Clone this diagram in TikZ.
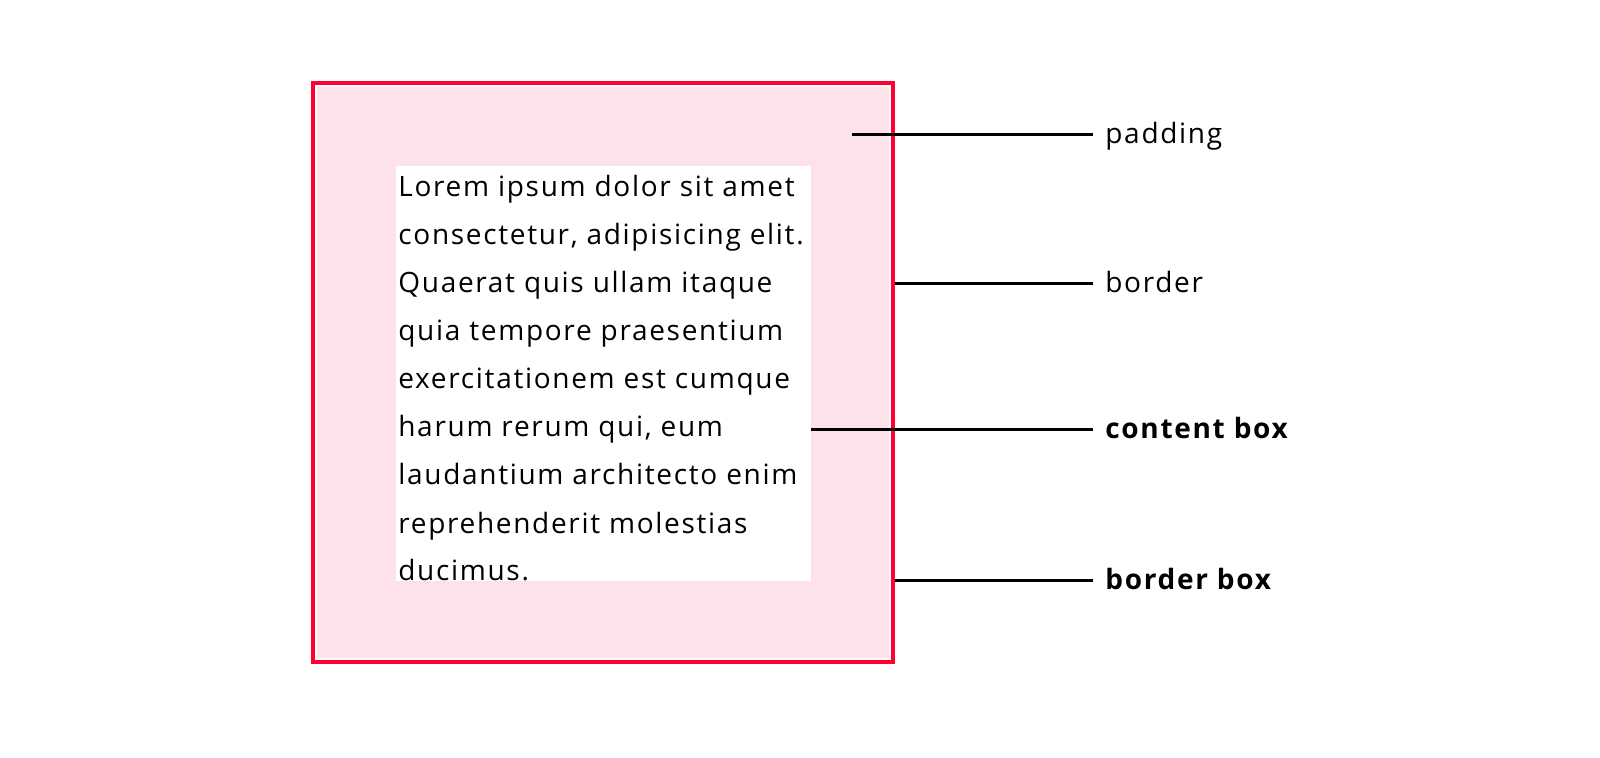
\documentclass[tikz,border=0pt]{standalone}
\usepackage{fontspec}
\setmainfont[Ligatures=NoCommon, LetterSpace=6]{Open Sans}
\usepackage{tikz}
\usetikzlibrary{positioning}
\definecolor{boxred}{RGB}{255, 0, 51}
\definecolor{padpink}{RGB}{253, 226, 233}

\begin{document}
\begin{tikzpicture}[x=0.5pt, y=-0.5pt,
    every node/.style={font=\fontsize{14}{24}\selectfont},
    lorem/.style={anchor=base west, inner sep=0pt},
    callout/.style={anchor=base west, inner sep=0pt},
    leader/.style={line width=1.5pt, black}]
  \useasboundingbox (0,0) rectangle (1600,758);
  % Padding area and border
  \node[fill=padpink, minimum width=286pt, minimum height=285.5pt, inner sep=0pt] (pad) at (603,372.5) {};
  \node[draw=boxred, line width=2pt, minimum width=290pt, minimum height=289.5pt, inner sep=0pt] (bbox) at (603,372.5) {};
  % Content box
  \node[fill=white, minimum width=207.5pt, minimum height=207.5pt, inner sep=0pt] (content) at (603.5,373.5) {};
  % Text lines
  \foreach \txt [count=\i] in {Lorem ipsum dolor sit amet,
      {consectetur, adipisicing elit.},
      Quaerat quis ullam itaque,
      quia tempore praesentium,
      exercitationem est cumque,
      {harum rerum qui, eum},
      laudantium architecto enim,
      reprehenderit molestias,
      ducimus.}{
    \node[lorem] (line\i) at (398,{197+48*(\i-1)}) {\txt};
  }
  % Labels
  \node[callout] (lpad) at (1105,144) {padding};
  \node[callout] (lborder) at (1105,293) {border};
  \node[callout] (lcontent) at (1105,439) {\bfseries content box};
  \node[callout] (lbbox) at (1105,589) {\bfseries border box};
  % Leader lines
  \coordinate (padpt) at (852,135);
  \draw[leader] (padpt) -- (1093,135);
  \draw[leader] (bbox.east |- 0,284) -- (1093,284);
  \draw[leader] (content.east |- 0,430) -- (1093,430);
  \draw[leader] (bbox.east |- 0,580) -- (1093,580);
\end{tikzpicture}
\end{document}
